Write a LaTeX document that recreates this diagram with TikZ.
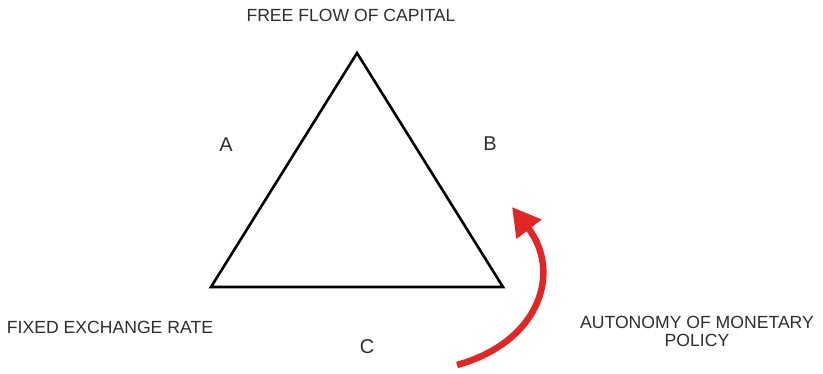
\documentclass[tikz,border=0pt]{standalone}
\usepackage{fontspec}
\setmainfont{Liberation Sans}
\usetikzlibrary{arrows.meta}
\definecolor{txt}{RGB}{45,45,45}
\definecolor{arrred}{RGB}{226,38,38}
\begin{document}
\begin{tikzpicture}[x=1pt,y=-1pt,
  lbl/.style={text=txt,font=\fontsize{17.6}{18}\selectfont,inner sep=0pt,align=center},
  letter/.style={text=txt,font=\fontsize{20}{22}\selectfont,inner sep=0pt},
  tri/.style={draw=black,line width=2.6pt,line join=miter},
  redarrow/.style={draw=arrred,line width=6.5pt,-{Triangle[length=28pt,width=30pt]}}]
\useasboundingbox (0,0) rectangle (823,373);
\coordinate (top) at (357,53);
\coordinate (bl) at (211,287);
\coordinate (br) at (503,287);
\draw[tri] (top) -- (br) -- (bl) -- cycle;
\node[lbl] (ffc) at (351,15) {FREE FLOW OF CAPITAL};
\node[letter] (A) at (226,145) {A};
\node[letter] (B) at (490,144) {B};
\node[letter] (C) at (367,347) {C};
\node[lbl] (fer) at (110,327) {FIXED EXCHANGE RATE};
\node[lbl] (amp) at (697,331) {AUTONOMY OF MONETARY\\POLICY};
\coordinate (as) at (457,365);
\coordinate (ae) at (512,207);
\draw[redarrow] (as) .. controls (540,342) and (562,272) .. (ae);
\end{tikzpicture}
\end{document}
